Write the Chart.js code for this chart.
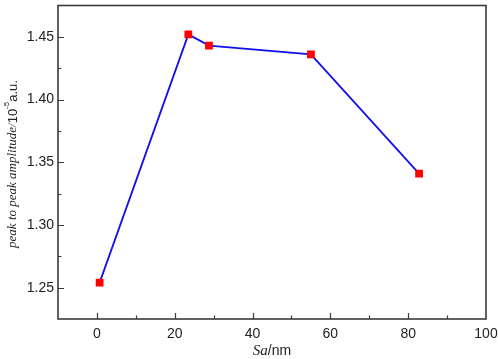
<!DOCTYPE html>
<html>
<head>
<meta charset="utf-8">
<script src="https://cdn.jsdelivr.net/npm/chart.js@4"></script>
<style>
  html, body { margin: 0; padding: 0; background: #fff; }
  #wrap { width: 498px; height: 359px; }
</style>
</head>
<body>
<div id="wrap"><canvas id="myChart" width="498" height="359"></canvas></div>
<script>
// valores
const saValues = [0.7, 23.5, 28.8, 55.0, 82.8];
const amplitude = [1.254, 1.452, 1.443, 1.436, 1.341];
const xTickLabels = [0, 20, 40, 60, 80, 100];
const yTickLabels = [1.25, 1.30, 1.35, 1.40, 1.45];

const points = saValues.map((x, i) => ({ x: x, y: amplitude[i] }));

// moldura, ticks para dentro e titulos dos eixos
const framePlugin = {
    id: "frame",
    afterDraw(chart) {
        const ctx = chart.ctx;
        const a = chart.chartArea;
        const xs = chart.scales.x;
        const ys = chart.scales.y;
        ctx.save();
        ctx.strokeStyle = "#3a3a3a";
        ctx.lineWidth = 1.6;
        ctx.strokeRect(a.left, a.top, a.right - a.left, a.bottom - a.top);

        ctx.lineWidth = 1.2;
        ctx.beginPath();
        xs.ticks.forEach((t) => {
            if (t.value <= xs.min || t.value >= xs.max) return;
            const px = Math.round(xs.getPixelForValue(t.value)) + 0.5;
            const len = xTickLabels.includes(t.value) ? 6 : 3.5;
            ctx.moveTo(px, a.bottom);
            ctx.lineTo(px, a.bottom - len);
        });
        ys.ticks.forEach((t) => {
            if (t.value <= ys.min + 1e-6 || t.value >= ys.max - 1e-6) return;
            const py = Math.round(ys.getPixelForValue(t.value)) + 0.5;
            const major = Math.round(t.value * 1000) % 50 === 0;
            const len = major ? 6 : 3.5;
            ctx.moveTo(a.left, py);
            ctx.lineTo(a.left + len, py);
        });
        ctx.stroke();

        // titulo eixo y (rotacionado)
        const parts = [
            { t: "peak to peak amplitude/", f: "italic 13px 'Liberation Serif'", dy: 0 },
            { t: "10", f: "13px 'Liberation Sans'", dy: 0 },
            { t: "-5", f: "8px 'Liberation Sans'", dy: -6 },
            { t: "a.u.", f: "13px 'Liberation Sans'", dy: 0 }
        ];
        let total = 0;
        parts.forEach((p) => { ctx.font = p.f; p.w = ctx.measureText(p.t).width; total += p.w; });
        ctx.translate(13, 164);
        ctx.rotate(-Math.PI / 2);
        ctx.fillStyle = "#222";
        ctx.textBaseline = "middle";
        let cx = -total / 2;
        parts.forEach((p) => {
            ctx.font = p.f;
            ctx.fillText(p.t, cx, p.dy);
            cx += p.w;
        });
        ctx.setTransform(1, 0, 0, 1, 0, 0);

        // titulo eixo x
        const xp = [
            { t: "Sa", f: "italic 15px 'Liberation Serif'" },
            { t: "/nm", f: "14px 'Liberation Sans'" }
        ];
        let tw = 0;
        xp.forEach((p) => { ctx.font = p.f; p.w = ctx.measureText(p.t).width; tw += p.w; });
        let sx = (a.left + a.right) / 2 - tw / 2;
        ctx.textBaseline = "alphabetic";
        xp.forEach((p) => {
            ctx.font = p.f;
            ctx.fillText(p.t, sx, 355);
            sx += p.w;
        });
        ctx.restore();
    }
};

const ctx = document.getElementById("myChart");

const myChart = new Chart(ctx, {
    type: "line",
    data: {
        datasets: [
            {
                data: points,
                borderColor: "#1010ee",
                borderWidth: 1.8,
                backgroundColor: "#ff0000",
                pointBackgroundColor: "#ff0000",
                pointBorderColor: "#ff0000",
                pointBorderWidth: 0,
                pointStyle: "rect",
                pointRadius: 5.5,
                tension: 0
            }
        ]
    },
    options: {
        responsive: false,
        animation: false,
        devicePixelRatio: 1,
        layout: { padding: { top: -2, right: 12, left: 0, bottom: 0 } },
        plugins: {
            legend: { display: false },
            tooltip: { enabled: false }
        },
        scales: {
            x: {
                type: "linear",
                min: -10,
                max: 100,
                border: { display: false },
                grid: { display: false, drawTicks: false },
                ticks: {
                    stepSize: 10,
                    autoSkip: false,
                    maxRotation: 0,
                    padding: 7,
                    color: "#222",
                    font: { family: "'Liberation Sans'", size: 14 },
                    callback: (v) => (xTickLabels.includes(v) ? String(v) : "")
                },
                afterFit: (scale) => {
                    scale.height = 40;
                    scale.paddingLeft = 0;
                    scale.paddingRight = 0;
                }
            },
            y: {
                min: 1.225,
                max: 1.475,
                border: { display: false },
                grid: { display: false, drawTicks: false },
                ticks: {
                    stepSize: 0.025,
                    autoSkip: false,
                    padding: 4,
                    color: "#222",
                    font: { family: "'Liberation Sans'", size: 14 },
                    callback: (v) => {
                        const hit = yTickLabels.find((t) => Math.abs(t - v) < 1e-6);
                        return hit !== undefined ? hit.toFixed(2) : "";
                    }
                },
                afterFit: (scale) => {
                    scale.width = 58;
                    scale.paddingTop = 0;
                    scale.paddingBottom = 0;
                }
            }
        }
    },
    plugins: [framePlugin]
});
</script>
</body>
</html>
